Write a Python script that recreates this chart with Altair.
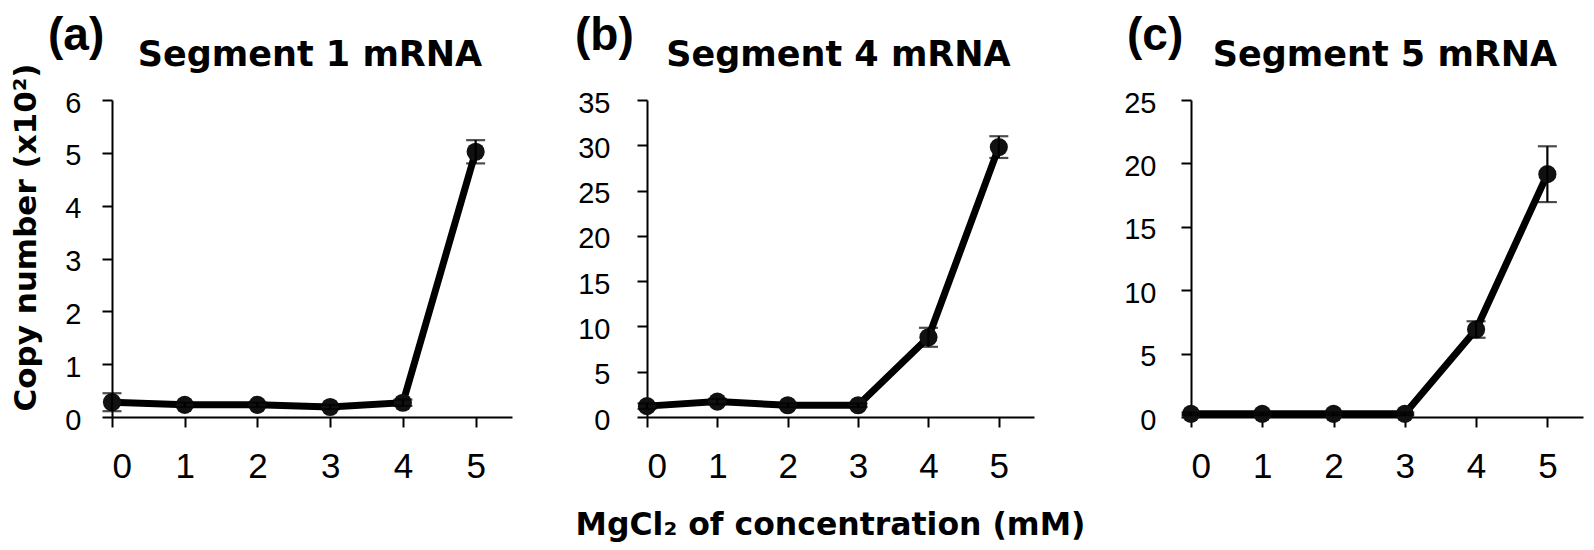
import altair as alt

# ---- data ----
mgcl2 = [0, 1, 2, 3, 4, 5]

seg1_vals = [0.28, 0.23, 0.23, 0.19, 0.27, 5.02]
seg1_err = [0.17, 0.04, 0.04, 0.04, 0.06, 0.22]

seg4_vals = [1.2, 1.7, 1.3, 1.3, 8.8, 29.8]
seg4_err = [0.3, 0.3, 0.2, 0.2, 1.05, 1.2]

seg5_vals = [0.25, 0.25, 0.25, 0.25, 6.9, 19.15]
seg5_err = [0.1, 0.1, 0.1, 0.1, 0.65, 2.2]

panel_letters = ["(a)", "(b)", "(c)"]
panel_titles = ["Segment 1 mRNA", "Segment 4 mRNA", "Segment 5 mRNA"]
y_max = [6, 35, 25]
y_step = [1, 5, 5]
x_ticks = [0, 1, 2, 3, 4, 5]
y_title = "Copy number (x10²)"
x_title = "MgCl₂ of concentration (mM)"

BOLD_FONT = "DejaVu Sans"
TICK_FONT = "Liberation Sans"
H = 317


def panel(vals, errs, letter, title, ymax, ystep, width, xrange, label_pad,
          letter_dx, ytitle=None, xtitle=None):
    rows = [{"mg": m, "v": v, "e": e} for m, v, e in zip(mgcl2, vals, errs)]
    base = alt.Chart(alt.Data(values=rows)).transform_calculate(
        lo="datum.v - datum.e", hi="datum.v + datum.e"
    )
    x = alt.X(
        "mg:Q",
        scale=alt.Scale(domain=[0, 5.5], nice=False, zero=False,
                        range=[0, xrange]),
        axis=alt.Axis(
            values=x_ticks, format="d", title=None, grid=False,
            labelFont=TICK_FONT, labelFontSize=35, labelColor="black",
            labelPadding=22, tickSize=10, tickWidth=2, tickColor="black",
            domainColor="black", domainWidth=2,
        ),
    )
    yaxis_kw = dict(
        values=list(range(0, ymax + 1, ystep)), format="d", grid=False,
        labelFont=TICK_FONT, labelFontSize=29, labelColor="black",
        labelPadding=label_pad, labelOffset=3, tickSize=10, tickWidth=2,
        tickColor="black", domainColor="black", domainWidth=2,
    )
    if ytitle:
        yaxis_kw.update(
            title=ytitle, titleFont=BOLD_FONT, titleFontSize=31,
            titleFontWeight="bold", titleColor="black", titleAngle=270,
            titleX=-70, titleY=137, titleAlign="center",
            titleBaseline="bottom",
        )
    else:
        yaxis_kw.update(title=None)
    y = alt.Y(
        "v:Q",
        scale=alt.Scale(domain=[0, ymax], nice=False),
        axis=alt.Axis(**yaxis_kw),
    )

    line = base.mark_line(color="black", strokeWidth=7).encode(x=x, y=y)
    pts = base.mark_point(
        shape="circle", filled=True, size=330, color="#111111", opacity=1
    ).encode(x="mg:Q", y="v:Q")
    bar = base.mark_rule(color="black", strokeWidth=2.2).encode(
        x="mg:Q", y="lo:Q", y2="hi:Q"
    )
    cap_lo = base.mark_tick(
        color="black", orient="horizontal", size=19, thickness=2.2
    ).encode(x="mg:Q", y="lo:Q")
    cap_hi = base.mark_tick(
        color="black", orient="horizontal", size=19, thickness=2.2
    ).encode(x="mg:Q", y="hi:Q")

    letter_txt = alt.Chart(alt.Data(values=[{"t": letter}])).mark_text(
        font="Liberation Sans", fontWeight="bold",
        fontSize=46, align="left", baseline="alphabetic", color="black",
    ).encode(text="t:N", x=alt.value(letter_dx), y=alt.value(-50))

    title_txt = alt.Chart(alt.Data(values=[{"t": title}])).mark_text(
        font=BOLD_FONT, fontWeight="bold", fontSize=35,
        align="center", baseline="alphabetic", color="black",
    ).encode(text="t:N", x=alt.value(xrange / 2 - 2), y=alt.value(-34))

    layers = [line, pts, bar, cap_lo, cap_hi, letter_txt, title_txt]
    if xtitle:
        xt = alt.Chart(alt.Data(values=[{"t": xtitle}])).mark_text(
            font=BOLD_FONT, fontWeight="bold", fontSize=31.5,
            align="center", baseline="alphabetic", color="black",
        ).encode(text="t:N", x=alt.value(xrange / 2 - 10), y=alt.value(435))
        layers.append(xt)

    return alt.layer(*layers).properties(width=width, height=H)


pa = panel(seg1_vals, seg1_err, panel_letters[0], panel_titles[0], y_max[0],
           y_step[0], 400, 400, 21, -64, ytitle=y_title)
pb = panel(seg4_vals, seg4_err, panel_letters[1], panel_titles[1], y_max[1],
           y_step[1], 409, 387, 27, -72, xtitle=x_title)
pc = panel(seg5_vals, seg5_err, panel_letters[2], panel_titles[2], y_max[2],
           y_step[2], 392, 392, 25, -64)

chart = alt.hconcat(pa, pb, pc, spacing=135, bounds="flush").properties(
    padding={"left": 1, "top": 5, "right": 2, "bottom": 2}
).configure_view(stroke=None)

chart.save("out.html", embed_options={"renderer": "svg", "actions": False})
